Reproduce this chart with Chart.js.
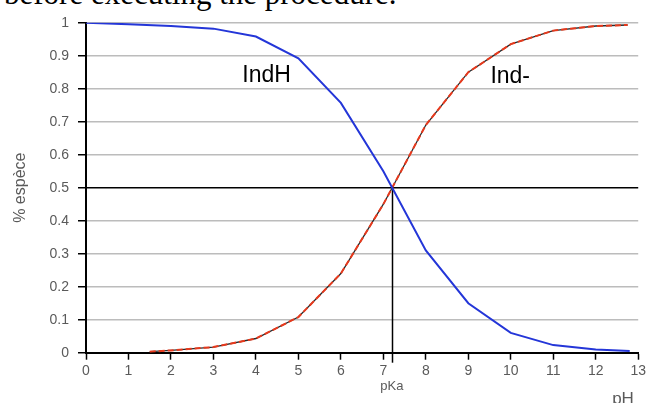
<!DOCTYPE html>
<html>
<head>
<meta charset="utf-8">
<script src="https://cdn.jsdelivr.net/npm/chart.js@4"></script>
<style>
  body { margin: 0; background: #fff; width: 649px; height: 403px; overflow: hidden; position: relative; }
  #note { position: absolute; left: 4px; top: -22px; font: 31px/31px "Liberation Serif", "Times New Roman", serif; color: #000; white-space: nowrap; }
  canvas { position: absolute; left: 0; top: 0; }
</style>
</head>
<body>
<div id="note">before executing the procedure.</div>
<canvas id="chart" width="649" height="403"></canvas>
<script>
// pH values and fractions
const phIndH = [0, 1, 2, 3, 4, 5, 6, 7, 8, 9, 10, 11, 12, 12.8];
const indH = [1.0, 0.995, 0.99, 0.982, 0.958, 0.892, 0.757, 0.55, 0.31, 0.15, 0.06, 0.023, 0.01, 0.005];

const phInd = [1.5, 2, 3, 4, 5, 6, 7, 8, 9, 10, 11, 12, 12.75];
const indMinus = [0.003, 0.007, 0.017, 0.043, 0.108, 0.24, 0.45, 0.69, 0.85, 0.935, 0.976, 0.99, 0.993];

const pKa = 7.2;
const xTicks = [0, 1, 2, 3, 4, 5, 6, 7, 8, 9, 10, 11, 12, 13];
const yTicks = [0, 0.1, 0.2, 0.3, 0.4, 0.5, 0.6, 0.7, 0.8, 0.9, 1];

const labelFont = '"Liberation Sans", Arial, sans-serif';

function pairs(xs, ys) {
  return xs.map((x, i) => ({ x: x, y: ys[i] }));
}

// extra marks: pKa line, axis captions, curve names
const extras = {
  id: 'extras',
  beforeDatasetsDraw(chart) {
    const { ctx, scales: { x, y }, chartArea } = chart;
    const px = Math.round(x.getPixelForValue(pKa)) + 0.5;
    ctx.save();
    ctx.strokeStyle = '#000';
    ctx.lineWidth = 1.5;
    ctx.beginPath();
    ctx.moveTo(px, y.getPixelForValue(0.5));
    ctx.lineTo(px, chartArea.bottom + 10);
    ctx.stroke();
    ctx.restore();
  },
  afterDraw(chart) {
    const { ctx, scales: { x, y }, chartArea } = chart;
    ctx.save();
    ctx.fillStyle = '#5a5a5a';
    ctx.textAlign = 'center';
    ctx.textBaseline = 'alphabetic';
    ctx.font = '13px ' + labelFont;
    ctx.fillText('pKa', x.getPixelForValue(pKa), chartArea.bottom + 37);

    ctx.font = '17px ' + labelFont;
    ctx.fillText('pH', 623, 404);

    ctx.translate(21, (chartArea.top + chartArea.bottom) / 2);
    ctx.rotate(-Math.PI / 2);
    ctx.textBaseline = 'middle';
    ctx.font = '16px ' + labelFont;
    ctx.fillText('% espèce', 0, 0);
    ctx.restore();

    ctx.save();
    ctx.fillStyle = '#000';
    ctx.font = '23px ' + labelFont;
    ctx.textBaseline = 'alphabetic';
    ctx.textAlign = 'left';
    ctx.fillText('IndH', x.getPixelForValue(3.68), y.getPixelForValue(0.82));
    ctx.fillText('Ind-', x.getPixelForValue(9.52), y.getPixelForValue(0.816));
    ctx.restore();
  }
};

new Chart(document.getElementById('chart'), {
  type: 'line',
  data: {
    datasets: [
      {
        label: 'IndH',
        data: pairs(phIndH, indH),
        borderColor: '#2436d8',
        borderWidth: 2,
        pointRadius: 0,
        tension: 0,
        order: 0
      },
      {
        label: 'Ind-',
        data: pairs(phInd, indMinus),
        borderColor: '#e8391c',
        borderWidth: 2,
        borderDash: [6, 3],
        pointRadius: 0,
        tension: 0,
        order: 1
      },
      {
        label: 'Ind- base',
        data: pairs(phInd, indMinus),
        borderColor: '#2a2a2a',
        borderWidth: 1.3,
        pointRadius: 0,
        tension: 0,
        order: 2
      }
    ]
  },
  options: {
    responsive: false,
    animation: false,
    layout: { padding: { top: 22.7, right: 7.3, left: 0, bottom: 0 } },
    plugins: { legend: { display: false }, tooltip: { enabled: false } },
    scales: {
      x: {
        type: 'linear',
        min: 0,
        max: 13,
        afterBuildTicks: s => { s.ticks = xTicks.map(v => ({ value: v })); },
        afterFit: s => { s.height = 50.3; },
        grid: { drawOnChartArea: false, tickLength: 7, tickColor: '#000', tickWidth: 1.5 },
        border: { color: '#000', width: 2 },
        ticks: { color: '#5a5a5a', padding: 3, font: { size: 14, family: labelFont }, maxRotation: 0 }
      },
      y: {
        min: 0,
        max: 1,
        afterBuildTicks: s => { s.ticks = yTicks.map(v => ({ value: v })); },
        afterFit: s => { s.width = 86; },
        grid: {
          color: c => Math.abs(c.tick.value - 0.5) < 1e-6 ? '#000' : '#bcbcbc',
          lineWidth: 1.5,
          tickLength: 8,
          tickColor: '#000',
          tickWidth: 1.5
        },
        border: { color: '#000', width: 2 },
        ticks: {
          color: '#5a5a5a',
          padding: 9,
          font: { size: 14, family: labelFont },
          callback: v => String(+v.toFixed(1))
        }
      }
    }
  },
  plugins: [extras]
});
</script>
</body>
</html>
